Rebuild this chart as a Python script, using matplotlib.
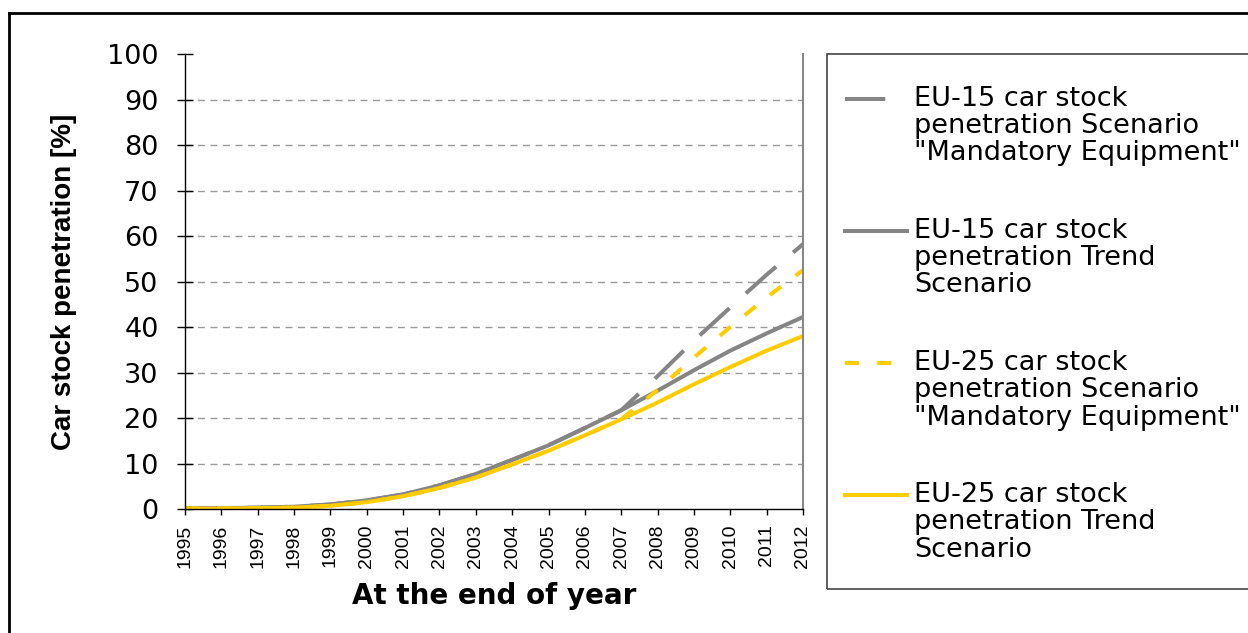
import matplotlib
matplotlib.use("Agg")
import matplotlib.pyplot as plt
import numpy as np
from matplotlib.lines import Line2D
from matplotlib.patches import Rectangle
from matplotlib.legend_handler import HandlerLine2D

plt.rcParams["font.family"] = ["DejaVu Sans"]

years = list(range(1995, 2013))

eu15_trend = [0.2, 0.2, 0.3, 0.5, 1.0, 1.9, 3.2, 5.2, 7.7, 10.8, 14.0, 17.8, 21.7,
              26.0, 30.5, 34.8, 38.6, 42.2]
eu25_trend = [0.1, 0.1, 0.2, 0.3, 0.7, 1.5, 2.8, 4.6, 6.9, 9.8, 12.8, 16.2, 19.7,
              23.4, 27.4, 31.2, 34.8, 38.0]
eu15_mand = [0.2, 0.2, 0.3, 0.5, 1.0, 1.9, 3.2, 5.2, 7.7, 10.8, 14.0, 17.8, 21.7,
             29.2, 37.0, 44.3, 51.5, 58.2]
eu25_mand = [0.1, 0.1, 0.2, 0.3, 0.7, 1.5, 2.8, 4.6, 6.9, 9.8, 12.8, 16.2, 19.7,
             26.2, 33.3, 40.0, 46.5, 52.5]

labels = [
    'EU-15 car stock\npenetration Scenario\n"Mandatory Equipment"',
    'EU-15 car stock\npenetration Trend\nScenario',
    'EU-25 car stock\npenetration Scenario\n"Mandatory Equipment"',
    'EU-25 car stock\npenetration Trend\nScenario',
]

GRAY = "#858585"
YELLOW = "#FFCC00"


class FirstLineHandler(HandlerLine2D):
    # put the legend line next to the first text line instead of the middle one
    def __init__(self, shift, **kw):
        super().__init__(**kw)
        self.shift = shift

    def create_artists(self, legend, orig_handle, xdescent, ydescent, width,
                       height, fontsize, trans):
        arts = super().create_artists(legend, orig_handle, xdescent, ydescent,
                                      width, height, fontsize, trans)
        for a in arts:
            a.set_ydata(np.asarray(a.get_ydata()) + self.shift)
        return arts


fig = plt.figure(figsize=(12.48, 6.33), dpi=100)
ax = fig.add_axes([185 / 1248, 1 - 509 / 633, 618 / 1248, 455 / 633])

l1, = ax.plot(years, eu15_mand, color=GRAY, lw=2.9, dashes=(10, 5.5))
l2, = ax.plot(years, eu15_trend, color=GRAY, lw=2.9)
l3, = ax.plot(years, eu25_mand, color=YELLOW, lw=2.9, dashes=(3.5, 4.5))
l4, = ax.plot(years, eu25_trend, color=YELLOW, lw=2.9)

ax.set_xlim(1995, 2012)
ax.set_ylim(0, 100)
ax.set_yticks(range(0, 101, 10))
ax.set_xticks(years)
ax.set_xticklabels([str(y) for y in years], rotation=90, fontsize=14,
                   family="Liberation Sans")
ax.tick_params(axis="y", labelsize=19.5, direction="inout", length=12, width=1, pad=13)
ax.tick_params(axis="x", direction="out", length=4, width=1, pad=7)

for v in range(10, 100, 10):
    ax.axhline(v, color="#999999", lw=1, dashes=(5, 4), zorder=0)

ax.spines["top"].set_visible(False)
ax.spines["right"].set_color("#888888")
ax.spines["right"].set_linewidth(1.5)
ax.spines["left"].set_linewidth(1)
ax.spines["bottom"].set_linewidth(1)

ax.set_xlabel("At the end of year", fontsize=20, fontweight="bold", labelpad=10)
ax.set_ylabel("Car stock penetration [%]", fontsize=20, fontweight="bold",
              family="Liberation Sans", labelpad=22)

# legend box
fig.add_artist(Rectangle((827 / 1248, 1 - 589 / 633), 0.5, (589 - 54) / 633,
                         transform=fig.transFigure, fill=False,
                         edgecolor="#444444", lw=1.2))

leg = fig.legend([l1, l2, l3, l4], labels, loc="upper left",
                 bbox_to_anchor=(827 / 1248, 1 - 68 / 633), borderaxespad=0,
                 fontsize=19.5, frameon=False,
                 handlelength=2.3, handletextpad=0.26, labelspacing=1.91,
                 borderpad=0.66,
                 handler_map={Line2D: FirstLineHandler(shift=19.8)})
for t in leg.get_texts():
    t.set_linespacing(1.06)

# outer frame
fig.add_artist(Line2D([9 / 1248, 9 / 1248], [-0.1, 1 - 13 / 633], color="black", lw=2,
                      transform=fig.transFigure))
fig.add_artist(Line2D([9 / 1248, 1.1], [1 - 13 / 633, 1 - 13 / 633], color="black", lw=2,
                      transform=fig.transFigure))

fig.savefig("out.png", dpi=100)
